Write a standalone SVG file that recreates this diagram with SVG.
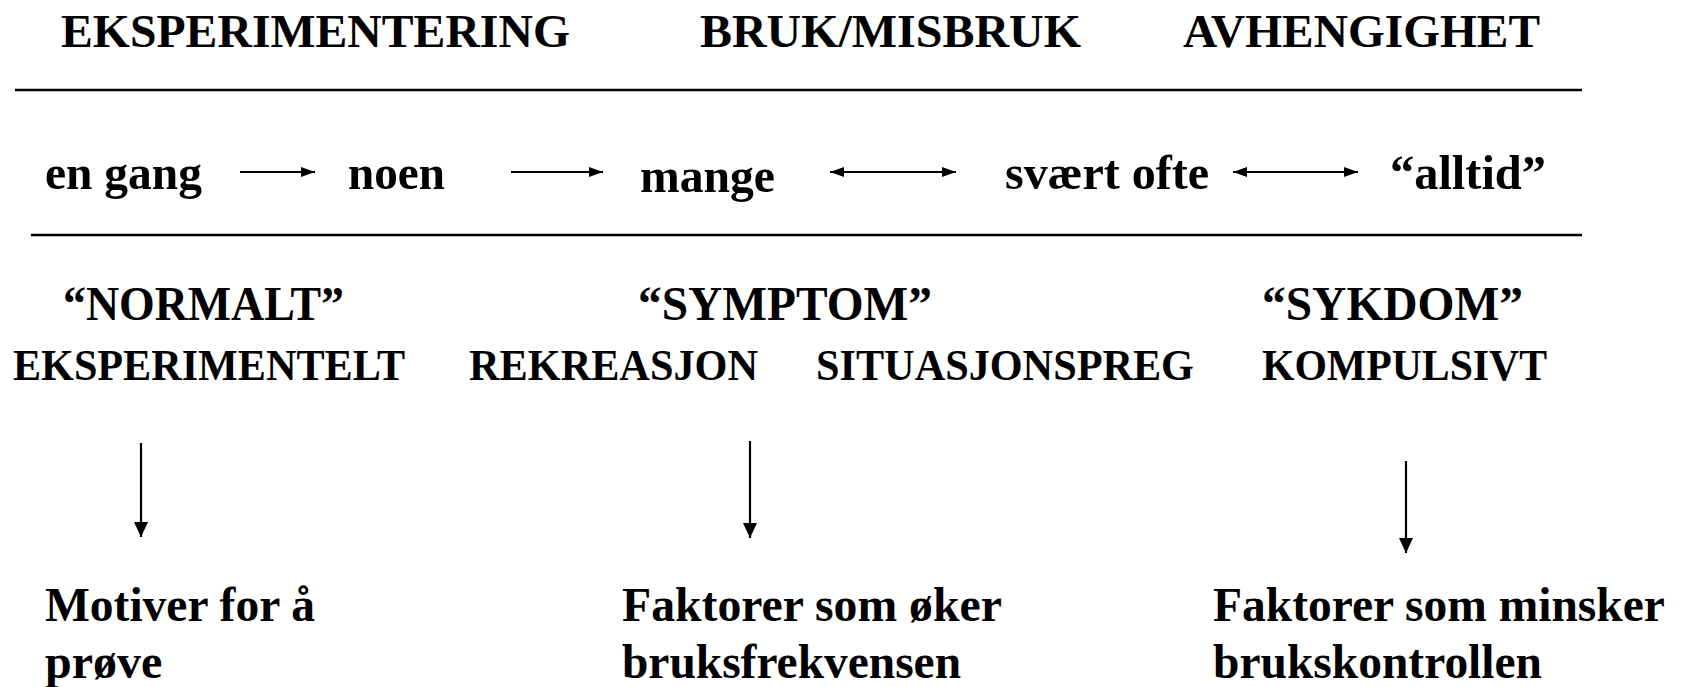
<svg xmlns="http://www.w3.org/2000/svg" width="1687" height="687" viewBox="0 0 1687 687">
  <style>
    text { font-family: "Liberation Serif", "Times New Roman", serif; font-weight: bold; fill: #000; }
    .h1 { font-size: 47px; }
    .r2 { font-size: 49px; }
    .h3 { font-size: 48px; }
    .r4 { font-size: 44px; }
    .r5 { font-size: 48px; }
    .rule { stroke: #000; stroke-width: 2.5; fill: none; }
    .arr { stroke: #000; stroke-width: 2.2; fill: none; }
  </style>
  <defs>
    <marker id="headH" markerUnits="userSpaceOnUse" markerWidth="15" markerHeight="12" refX="14" refY="6" orient="auto-start-reverse">
      <path d="M0,1 L14,6 L0,11 Z" fill="#000"/>
    </marker>
    <marker id="headV" markerUnits="userSpaceOnUse" markerWidth="16" markerHeight="16" refX="15" refY="8" orient="auto">
      <path d="M0,1 L15,8 L0,15 Z" fill="#000"/>
    </marker>
  </defs>
  <rect width="1687" height="687" fill="#fff"/>

  <g id="headings">
    <text id="h-eksperimentering" class="h1" x="61" y="47" textLength="509" lengthAdjust="spacingAndGlyphs">EKSPERIMENTERING</text>
    <text id="h-bruk" class="h1" x="700" y="47" textLength="381" lengthAdjust="spacingAndGlyphs">BRUK/MISBRUK</text>
    <text id="h-avhengighet" class="h1" x="1183" y="47" textLength="357" lengthAdjust="spacingAndGlyphs">AVHENGIGHET</text>
  </g>

  <g id="rules">
    <line class="rule" x1="15" y1="90" x2="1582" y2="90"/>
    <line class="rule" x1="31" y1="235" x2="1582" y2="235"/>
  </g>

  <g id="frequency">
    <text id="f-engang" class="r2" x="45" y="189" textLength="157" lengthAdjust="spacingAndGlyphs">en gang</text>
    <text id="f-noen" class="r2" x="348" y="189" textLength="97" lengthAdjust="spacingAndGlyphs">noen</text>
    <text id="f-mange" class="r2" x="640" y="192" textLength="135" lengthAdjust="spacingAndGlyphs">mange</text>
    <text id="f-svaert" class="r2" x="1005" y="189" textLength="204" lengthAdjust="spacingAndGlyphs">svært ofte</text>
    <text id="f-alltid" class="r2" x="1390" y="189" textLength="156" lengthAdjust="spacingAndGlyphs">“alltid”</text>
  </g>

  <g id="categories">
    <text id="c-normalt" class="h3" x="63" y="320" textLength="281" lengthAdjust="spacingAndGlyphs">“NORMALT”</text>
    <text id="c-symptom" class="h3" x="638" y="320" textLength="294" lengthAdjust="spacingAndGlyphs">“SYMPTOM”</text>
    <text id="c-sykdom" class="h3" x="1262" y="320" textLength="261" lengthAdjust="spacingAndGlyphs">“SYKDOM”</text>
    <text id="c-eksperimentelt" class="r4" x="13" y="380" textLength="392" lengthAdjust="spacingAndGlyphs">EKSPERIMENTELT</text>
    <text id="c-rekreasjon" class="r4" x="469" y="380" textLength="289" lengthAdjust="spacingAndGlyphs">REKREASJON</text>
    <text id="c-situasjon" class="r4" x="816" y="380" textLength="378" lengthAdjust="spacingAndGlyphs">SITUASJONSPREG</text>
    <text id="c-kompulsivt" class="r4" x="1262" y="380" textLength="285" lengthAdjust="spacingAndGlyphs">KOMPULSIVT</text>
  </g>

  <g id="factors">
    <text id="m-motiver" class="r5">
      <tspan x="45" y="621" textLength="270" lengthAdjust="spacingAndGlyphs">Motiver for å</tspan>
      <tspan x="45" y="678">prøve</tspan>
    </text>
    <text id="m-oker" class="r5">
      <tspan x="622" y="621" textLength="379" lengthAdjust="spacingAndGlyphs">Faktorer som øker</tspan>
      <tspan x="622" y="678" textLength="339" lengthAdjust="spacingAndGlyphs">bruksfrekvensen</tspan>
    </text>
    <text id="m-minsker" class="r5">
      <tspan x="1213" y="621" textLength="451" lengthAdjust="spacingAndGlyphs">Faktorer som minsker</tspan>
      <tspan x="1213" y="678" textLength="329" lengthAdjust="spacingAndGlyphs">brukskontrollen</tspan>
    </text>
  </g>

  <g id="connectors">
    <line class="arr" x1="240" y1="172" x2="315" y2="172" marker-end="url(#headH)"/>
    <line class="arr" x1="511" y1="172" x2="603" y2="172" marker-end="url(#headH)"/>
    <line class="arr" x1="830" y1="172" x2="956" y2="172" marker-start="url(#headH)" marker-end="url(#headH)"/>
    <line class="arr" x1="1233" y1="172" x2="1358" y2="172" marker-start="url(#headH)" marker-end="url(#headH)"/>
    <line class="arr" x1="141" y1="443" x2="141" y2="537" marker-end="url(#headV)"/>
    <line class="arr" x1="750" y1="441" x2="750" y2="538" marker-end="url(#headV)"/>
    <line class="arr" x1="1406" y1="461" x2="1406" y2="553" marker-end="url(#headV)"/>
  </g>
</svg>
